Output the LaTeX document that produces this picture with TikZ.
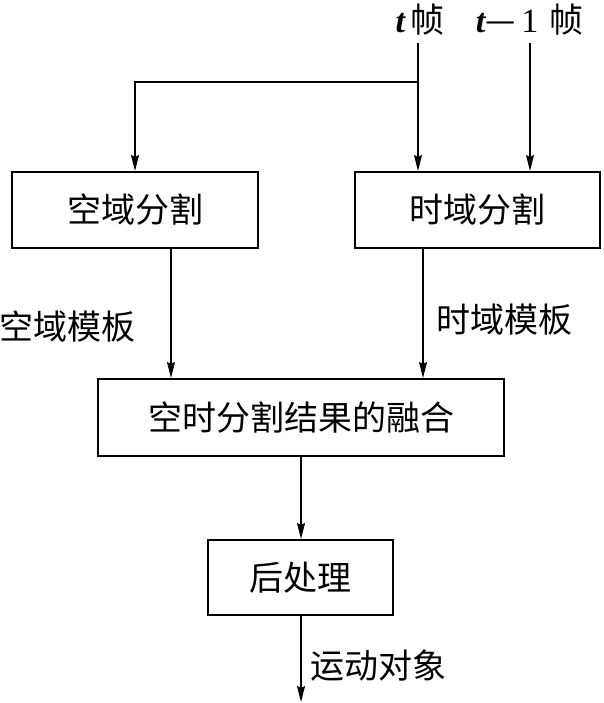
\documentclass[tikz,border=0pt]{standalone}
\usepackage{fontspec}
\setmainfont{Liberation Serif}
\newfontfamily\cjk{Noto Sans CJK SC}
\usetikzlibrary{arrows.meta}
\tikzset{
  box/.style={draw, line width=2pt, inner sep=0pt, font=\cjk\fontsize{34}{38}\selectfont},
  lbl/.style={inner sep=0pt, font=\cjk\fontsize{34}{38}\selectfont},
  conn/.style={line width=1.4pt},
  arr/.style={conn, -{Stealth[length=16pt, width=8pt, inset=2pt]}}
}
\begin{document}
\begin{tikzpicture}[x=1pt, y=-1pt]
\useasboundingbox (0,0) rectangle (604,703);
% boxes
\node[box, minimum width=246pt, minimum height=76pt] (lbox) at (135,210) {空域分割};
\node[box, minimum width=245pt, minimum height=76pt] (rbox) at (477.5,210) {时域分割};
\node[box, minimum width=406pt, minimum height=77pt] (mid) at (301,417.5) {空时分割结果的融合};
\node[box, minimum width=185pt, minimum height=75pt] (post) at (300.5,577.5) {后处理};
% top labels
\node[lbl, anchor=east] (tlab) at (445,20) {{\rmfamily\bfseries\itshape t}\,帧};
\node[lbl, anchor=east] (t1lab) at (584,20) {{\rmfamily\bfseries\itshape t}—\,{\rmfamily 1}\,\,帧};
% side labels
\node[lbl, anchor=west] (slab) at (-1,327) {空域模板};
\node[lbl, anchor=west] (tmlab) at (436,320) {时域模板};
\node[lbl, anchor=west] (olab) at (310,666) {运动对象};
% coordinates
\coordinate (tin) at (418,43);
\coordinate (t1in) at (530,43);
\coordinate (split) at (418,82);
\coordinate (out) at (301,702);
% connectors
\draw[arr] (tin) -- (tin |- rbox.north);
\draw[arr] (split) -| (lbox.north);
\draw[arr] (t1in) -- (t1in |- rbox.north);
\draw[arr] (lbox.south -| 171,0) -- (mid.north -| 171,0);
\draw[arr] (rbox.south -| 423,0) -- (mid.north -| 423,0);
\draw[arr] (mid.south -| 301,0) -- (post.north -| 301,0);
\draw[arr] (post.south -| 301,0) -- (out);
\end{tikzpicture}
\end{document}
